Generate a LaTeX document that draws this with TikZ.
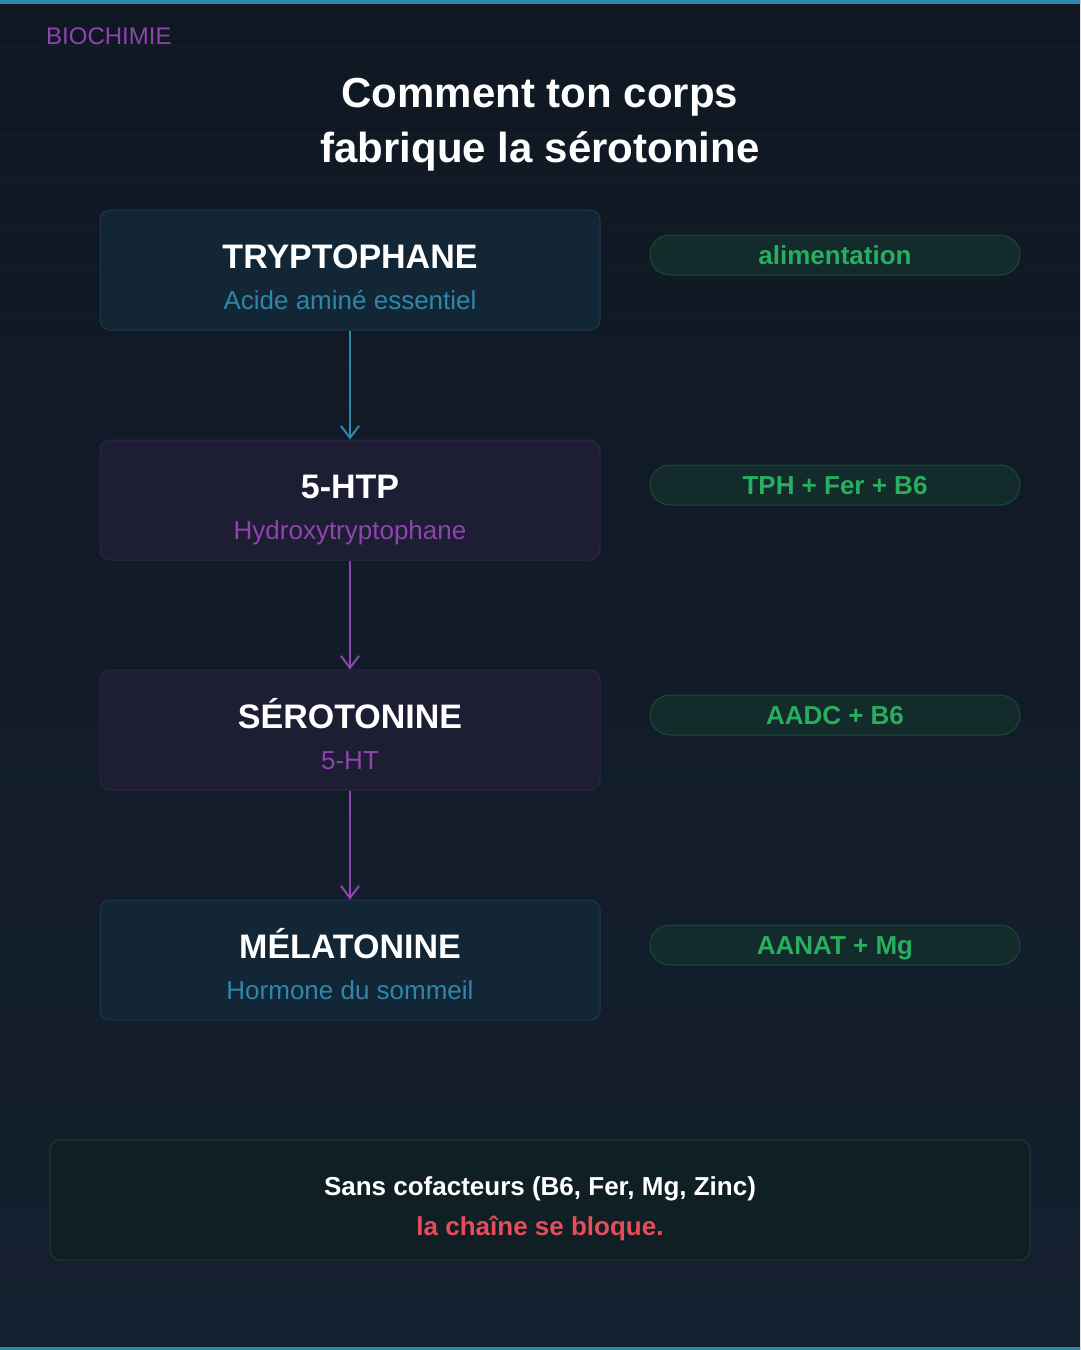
\documentclass[tikz,border=0pt]{standalone}
\usepackage{fontspec}
\setmainfont{Liberation Sans}
\usetikzlibrary{arrows.meta,calc}
\definecolor{bgtop}{HTML}{0F1822}
\definecolor{bgbot}{HTML}{152030}
\definecolor{cyanc}{HTML}{2E86AB}
\definecolor{purp}{HTML}{8E44AD}
\definecolor{bluefill}{HTML}{132636}
\definecolor{blueline}{HTML}{1C3A4E}
\definecolor{purfill}{HTML}{1D1E33}
\definecolor{purline}{HTML}{2D2547}
\definecolor{pillfill}{HTML}{132B2B}
\definecolor{pillline}{HTML}{1A4A38}
\definecolor{greent}{HTML}{27AE60}
\definecolor{botfill}{HTML}{0F1F24}
\definecolor{botline}{HTML}{17402F}
\definecolor{redt}{HTML}{E74C5C}
\tikzset{
  stagebox/.style={draw=#1line, fill=#1fill, line width=1pt, rounded corners=10pt,
    minimum width=500pt, minimum height=120pt, inner sep=0pt},
  stagetitle/.style={text=white, font=\bfseries\fontsize{34}{38}\selectfont, inner sep=0pt, anchor=base},
  stagesub/.style={text=#1, font=\fontsize{26}{30}\selectfont, inner sep=0pt, anchor=base},
  pill/.style={draw=pillline, fill=pillfill, line width=1pt, rounded corners=20pt,
    minimum width=370pt, minimum height=40pt, inner sep=0pt,
    text height=18.5pt, text depth=0pt,
    text=greent, font=\bfseries\fontsize{26}{30}\selectfont},
  flow/.style={draw=#1, line width=2pt, -{Straight Barb[length=12pt,width=18pt,line width=2pt]}},
}
\begin{document}
\begin{tikzpicture}[x=1pt,y=-1pt]
\useasboundingbox (0,0) rectangle (1080,1350);
\clip (0,0) rectangle (1080,1350);
\shade[top color=bgtop, bottom color=bgbot] (-6,-6) rectangle (1086,1356);
% faint horizontal lines
\foreach \k in {1,...,20} {
  \pgfmathsetmacro{\op}{max(0,0.03-0.0015*\k)}
  \draw[white, opacity=\op, line width=1pt] (-6,45*\k) -- (1086,45*\k);
}
\fill[cyanc] (-6,-6) rectangle (1086,4);
\fill[cyanc] (-6,1347) rectangle (1086,1356);

\node[anchor=base west, inner sep=0pt, text=purp, font=\fontsize{24}{28}\selectfont] (tag) at (46,44) {BIOCHIMIE};
\node[anchor=base, inner sep=0pt, text=white, font=\bfseries\fontsize{42}{48}\selectfont] (t1) at (540,107) {Comment ton corps};
\node[anchor=base, inner sep=0pt, text=white, font=\bfseries\fontsize{42}{48}\selectfont] (t2) at (540,162) {fabrique la sérotonine};

% stages
\node[stagebox=blue] (b1) at (350,270) {};
\node[stagetitle] (b1t) at (350,268) {TRYPTOPHANE};
\node[stagesub=cyanc] (b1s) at (350,309) {Acide aminé essentiel};

\node[stagebox=pur] (b2) at (350,500) {};
\node[stagetitle] (b2t) at (350,498) {5-HTP};
\node[stagesub=purp] (b2s) at (350,539) {Hydroxytryptophane};

\node[stagebox=pur] (b3) at (350,730) {};
\node[stagetitle] (b3t) at (350,728) {SÉROTONINE};
\node[stagesub=purp] (b3s) at (350,769) {5-HT};

\node[stagebox=blue] (b4) at (350,960) {};
\node[stagetitle] (b4t) at (350,958) {MÉLATONINE};
\node[stagesub=cyanc] (b4s) at (350,999) {Hormone du sommeil};

\draw[flow=cyanc] (b1.south) -- (b2.north);
\draw[flow=purp] (b2.south) -- (b3.north);
\draw[flow=purp] (b3.south) -- (b4.north);

% pills
\node[pill] (p1) at (835,255) {alimentation};
\node[pill] (p2) at (835,485) {TPH + Fer + B6};
\node[pill] (p3) at (835,715) {AADC + B6};
\node[pill] (p4) at (835,945) {AANAT + Mg};

% bottom note
\node[draw=botline, fill=botfill, line width=1pt, rounded corners=10pt,
  minimum width=980pt, minimum height=120pt, inner sep=0pt] (note) at (540,1200) {};
\node[anchor=base, inner sep=0pt, text=white, font=\bfseries\fontsize{26}{30}\selectfont] (n1) at (540,1195) {Sans cofacteurs (B6, Fer, Mg, Zinc)};
\node[anchor=base, inner sep=0pt, text=redt, font=\bfseries\fontsize{26}{30}\selectfont] (n2) at (540,1235) {la chaîne se bloque.};
\end{tikzpicture}
\end{document}
